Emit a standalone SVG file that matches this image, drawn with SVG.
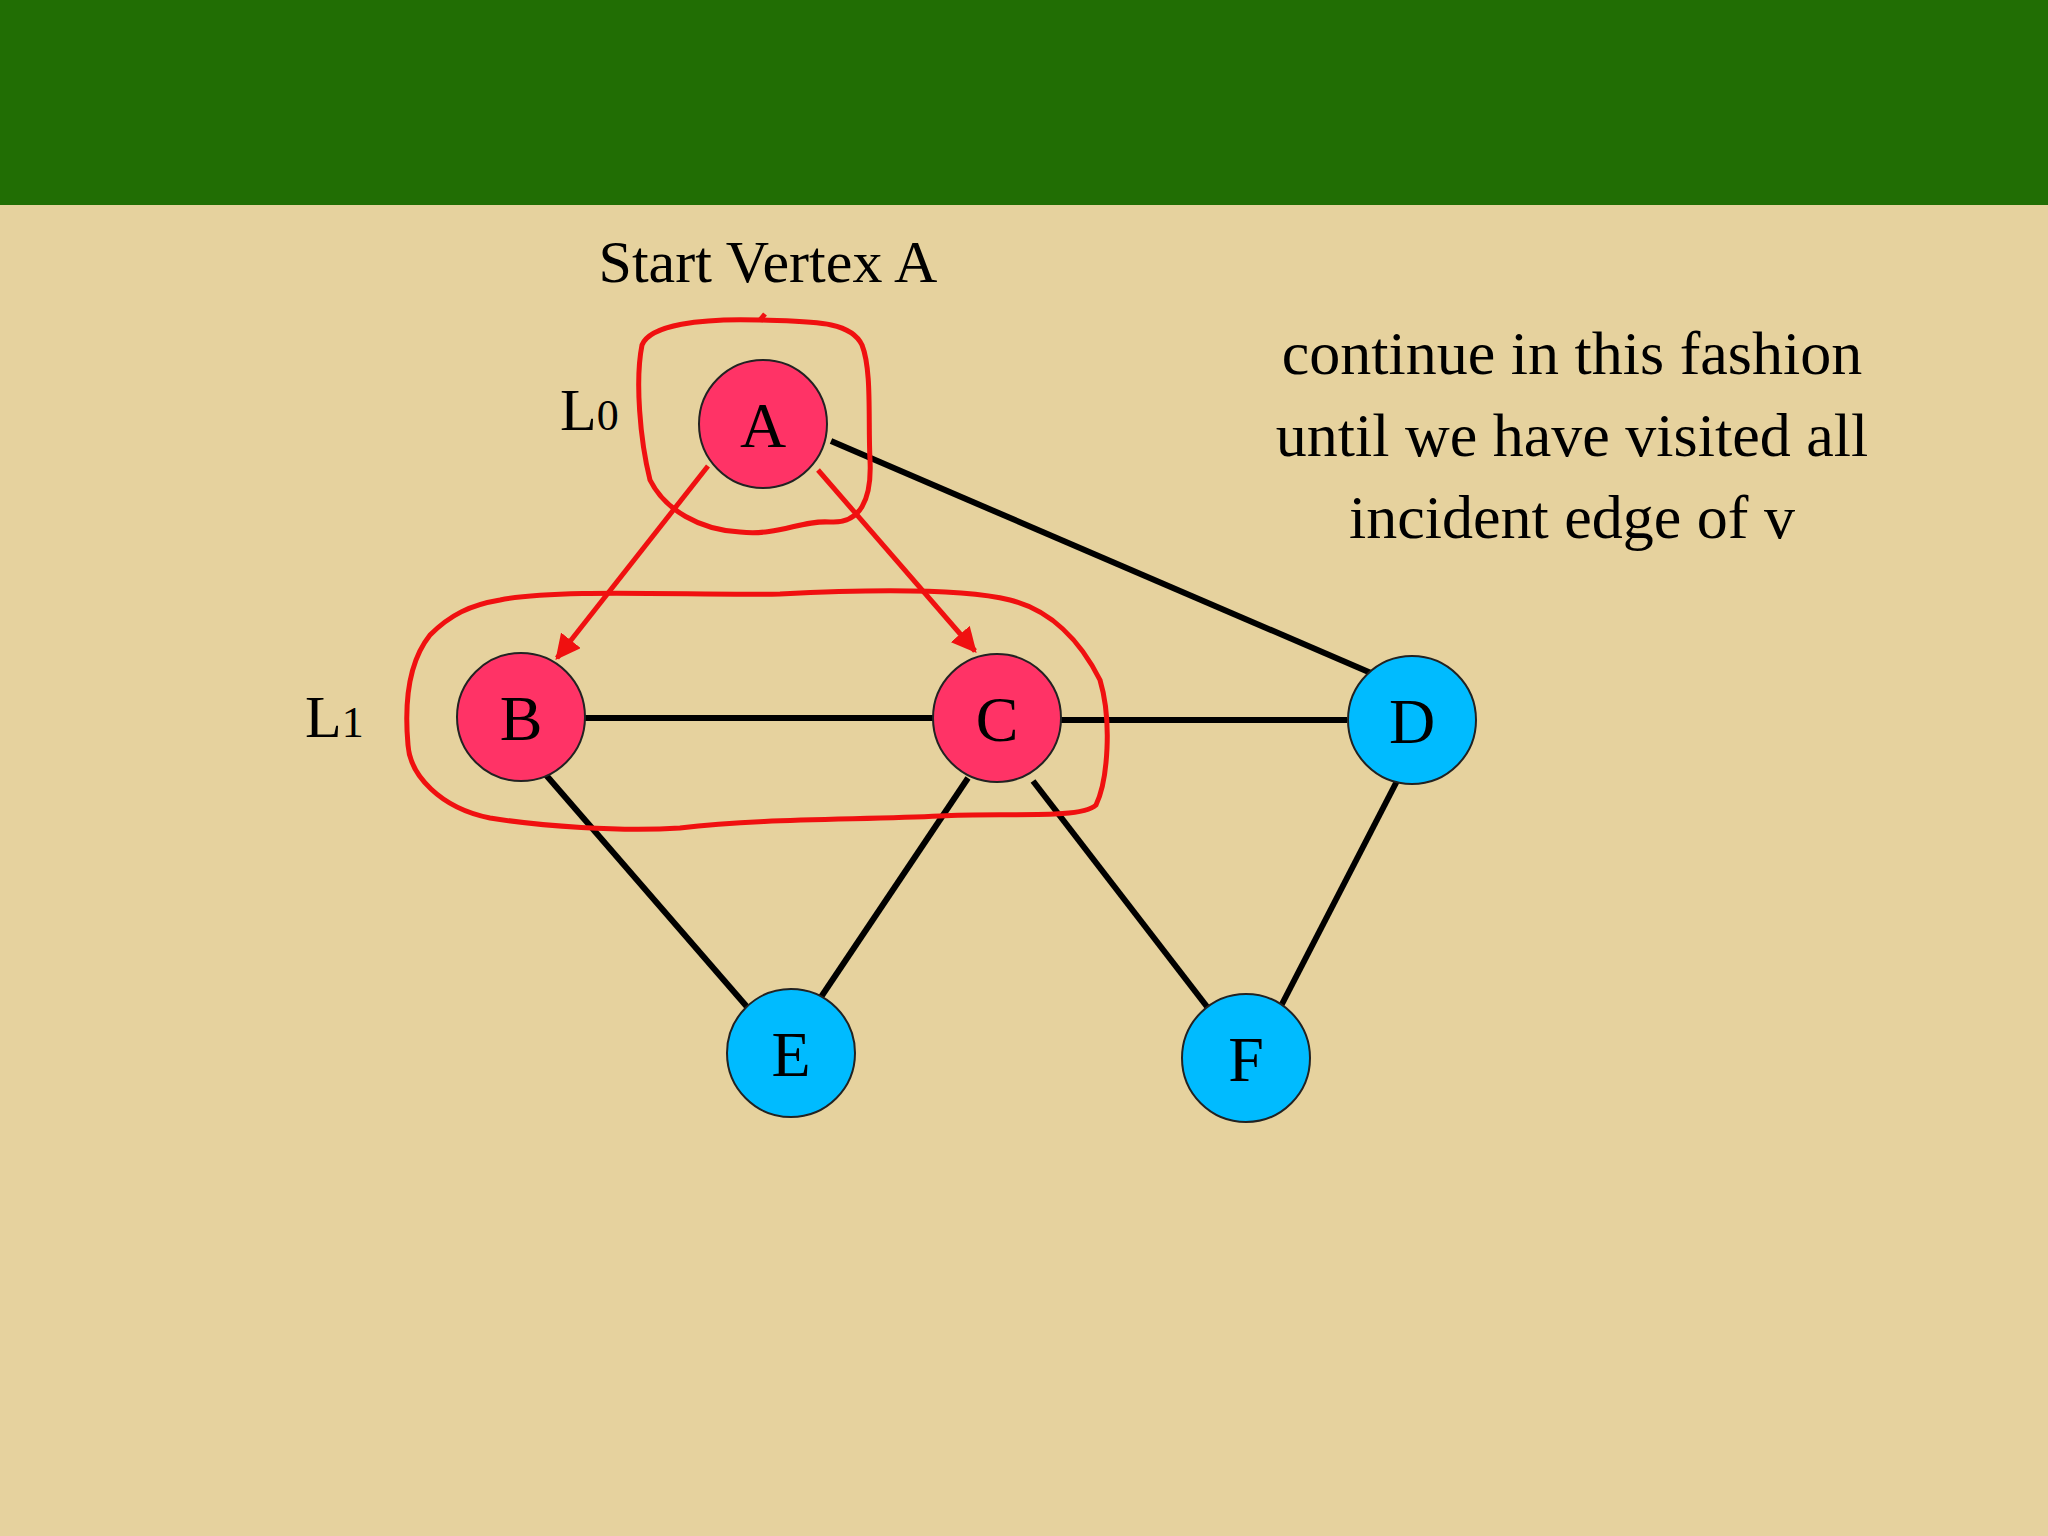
<svg xmlns="http://www.w3.org/2000/svg" width="2048" height="1536" viewBox="0 0 2048 1536">
<defs>
<style>
.e{stroke:#000;stroke-width:6;fill:none}
.r{stroke:#F01010;stroke-width:5;fill:none}
.n{stroke:#222;stroke-width:2}
.t{font-family:"Liberation Serif",serif;fill:#000}
.lbl{font-family:"Liberation Serif",serif;font-size:64px;text-anchor:middle;fill:#000}
</style>
<marker id="ah" viewBox="0 0 10 10" refX="9" refY="5" markerWidth="5" markerHeight="5" orient="auto"><path d="M0,0 L10,5 L0,10 z" fill="#F01010"/></marker>
</defs>
<rect width="2048" height="1536" fill="#E6D29E"/>
<rect width="2048" height="205" fill="#216E04"/>
<g id="connectors">
<line class="e" x1="831" y1="441" x2="1371" y2="673"/>
<line class="e" x1="584" y1="718" x2="934" y2="718"/>
<line class="e" x1="1061" y1="720" x2="1347" y2="720"/>
<line class="e" x1="546" y1="775" x2="748" y2="1008"/>
<line class="e" x1="968" y1="778" x2="819" y2="1000"/>
<line class="e" x1="1033" y1="781" x2="1208" y2="1008"/>
<line class="e" x1="1397" y1="781" x2="1281" y2="1006"/>
<line class="r" x1="708" y1="466" x2="557" y2="658" marker-end="url(#ah)"/>
<line class="r" x1="818" y1="470" x2="975" y2="651" marker-end="url(#ah)"/>
</g>
<g id="loops">
<path class="r" d="M760,320 C700,318 650,325 642,345 C635,380 640,440 650,480 C665,510 700,530 740,532 C780,536 800,520 830,522 C860,524 872,500 870,460 C868,420 872,370 862,345 C850,320 810,322 760,320 Z"/>
<path class="r" d="M760,320 L765,314"/>
<path class="r" d="M500,600 C560,588 700,596 780,594 C860,590 960,588 1010,600 C1050,610 1080,640 1100,680 C1112,720 1108,780 1096,805 C1080,820 1000,812 940,816 C860,820 760,818 680,828 C620,832 540,826 490,818 C440,808 410,775 408,745 C404,700 410,660 430,635 C450,615 470,605 500,600 Z"/>
</g>
<g id="A"><circle class="n" cx="763" cy="424" r="64" fill="#FF3366"/><text class="lbl" x="763" y="447">A</text></g>
<g id="B"><circle class="n" cx="521" cy="717" r="64" fill="#FF3366"/><text class="lbl" x="521" y="740">B</text></g>
<g id="C"><circle class="n" cx="997" cy="718" r="64" fill="#FF3366"/><text class="lbl" x="997" y="741">C</text></g>
<g id="D"><circle class="n" cx="1412" cy="720" r="64" fill="#00BBFF"/><text class="lbl" x="1412" y="743">D</text></g>
<g id="E"><circle class="n" cx="791" cy="1053" r="64" fill="#00BBFF"/><text class="lbl" x="791" y="1076">E</text></g>
<g id="F"><circle class="n" cx="1246" cy="1058" r="64" fill="#00BBFF"/><text class="lbl" x="1246" y="1081">F</text></g>
<text class="t" x="768" y="282" font-size="60" text-anchor="middle">Start Vertex A</text>
<text class="t" x="560" y="430" font-size="60">L<tspan font-size="44">0</tspan></text>
<text class="t" x="305" y="737" font-size="60">L<tspan font-size="44">1</tspan></text>
<g class="t" font-size="62" text-anchor="middle">
<text x="1572" y="374">continue in this fashion</text>
<text x="1572" y="456">until we have visited all</text>
<text x="1572" y="538">incident edge of v</text>
</g>
</svg>
